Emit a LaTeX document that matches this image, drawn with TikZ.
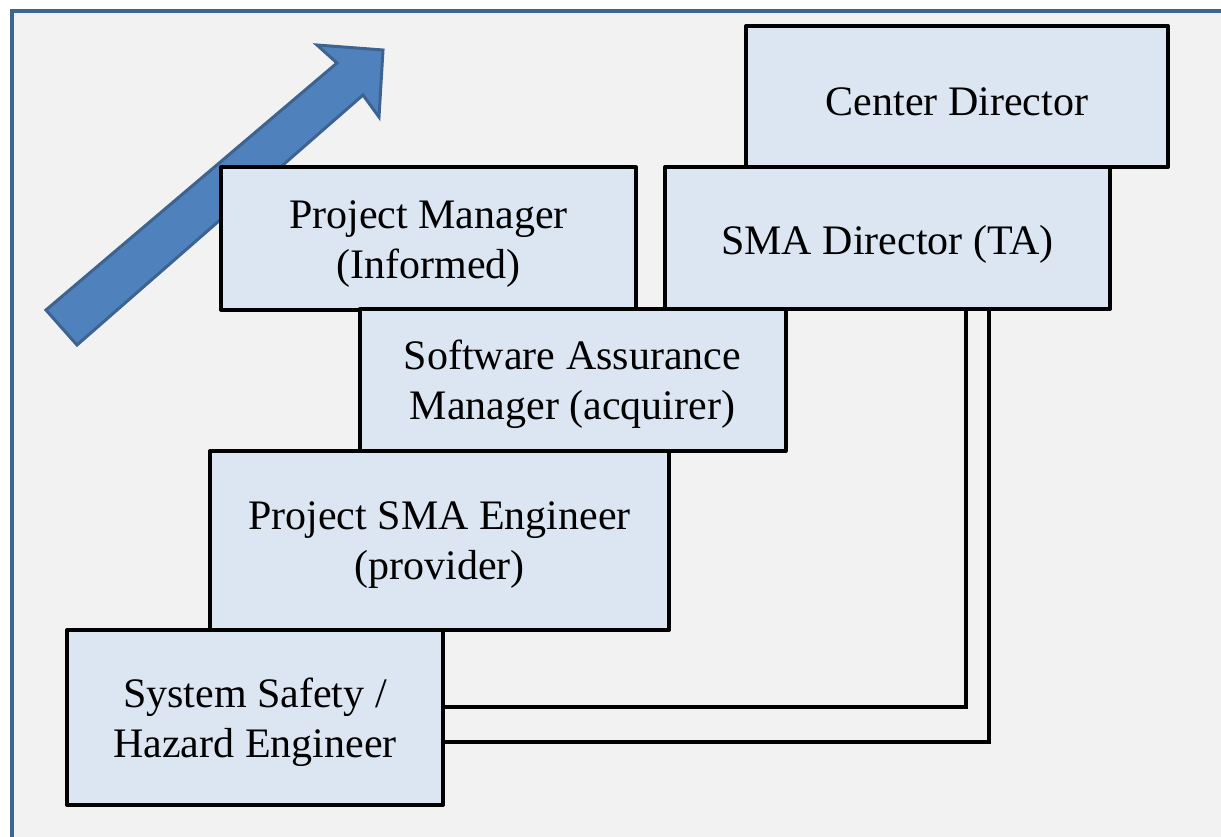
\documentclass[tikz,border=0pt]{standalone}
\usepackage{fontspec}
\setmainfont{Liberation Serif}
\usetikzlibrary{calc}
\definecolor{bgc}{HTML}{F2F2F2}
\definecolor{boxc}{HTML}{DCE6F2}
\definecolor{framec}{HTML}{3E6496}
\definecolor{arrfill}{HTML}{4F81BD}
\definecolor{arrline}{HTML}{3D6390}
\tikzset{
  rolebox/.style={draw=black, fill=boxc, line width=4pt, inner sep=0pt, line join=round},
  roletext/.style={inner sep=0pt, align=center, font=\fontsize{42}{50}\selectfont},
  link/.style={draw=black, line width=3.5pt, line join=miter}
}
\begin{document}
\begin{tikzpicture}[x=1pt,y=-1pt]
\useasboundingbox (0,0) rectangle (1221,837);
\fill[white] (0,0) rectangle (1221,837);
\begin{scope}
\clip (0,0) rectangle (1221,837);
\draw[fill=bgc, draw=framec, line width=4pt] (12,11) rectangle (1250,870);
\end{scope}
% arrow
\draw[fill=arrfill, draw=arrline, line width=3pt, line join=miter]
  (46,310) -- (337,63) -- (317,45) -- (383,50) -- (379,117) -- (363,95) -- (77,345) -- cycle;
% boxes
\node[rolebox, minimum width=422, minimum height=141] (cd) at (957,96.5) {};
\node[roletext] (cdt) at ([yshift=-5pt]cd.center) {Center Director};
\node[rolebox, minimum width=445, minimum height=142] (smad) at (887.5,238) {};
\node[roletext] (smadt) at ([yshift=-6pt]smad.center) {SMA Director (TA)};
\node[rolebox, minimum width=415, minimum height=142] (pm) at (428.5,238.5) {};
\node[roletext] (pmt) at ([yshift=-6pt]pm.center) {Project Manager\\(Informed)};
\node[rolebox, minimum width=426, minimum height=142] (sam) at (572.5,380) {};
\node[roletext] (samt) at ([yshift=-4pt]sam.center) {Software Assurance\\Manager (acquirer)};
\node[rolebox, minimum width=459, minimum height=179] (pse) at (439.5,540.5) {};
\node[roletext] (pset) at ([yshift=-5pt]pse.center) {Project SMA Engineer\\(provider)};
\node[rolebox, minimum width=376, minimum height=175] (sshe) at (255,717.5) {};
\node[roletext] (sshet) at ([yshift=-5pt]sshe.center) {System Safety /\\Hazard Engineer};
% connectors
\draw[link] ($(sshe.east)+(0,-10.5)$) -| ($(smad.south)+(78.5,0)$);
\draw[link] ($(sshe.east)+(0,24.5)$) -| ($(smad.south)+(101.5,0)$);
\end{tikzpicture}
\end{document}
